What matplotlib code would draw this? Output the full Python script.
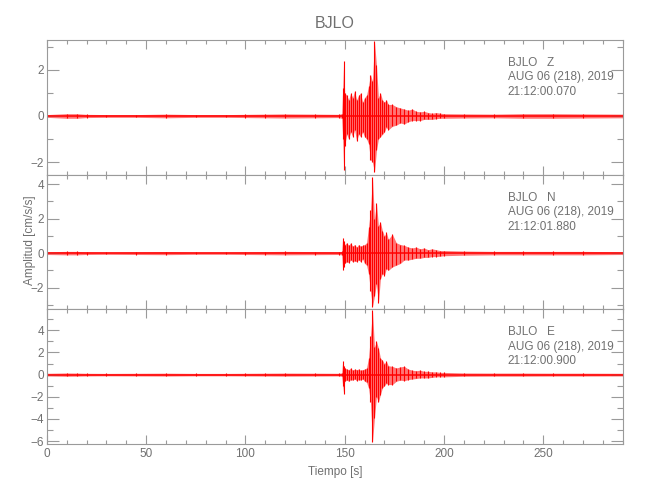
import numpy as np
import matplotlib.pyplot as plt
from matplotlib.ticker import MultipleLocator

plt.rcParams['font.family'] = ['Liberation Sans', 'DejaVu Sans']

# tiempos de la envolvente (s)
t = [0, 10, 15, 20, 30, 45, 60, 75, 90, 100, 110, 120, 135, 147, 148.5,
     149, 149.5, 150, 151, 152, 153, 154, 155, 156, 157, 158, 159, 160,
     161, 162, 163, 164, 165, 166, 167, 168, 169, 170, 171, 172,
     174, 176, 178, 180, 182, 184, 186, 188, 190, 192, 194, 196, 198, 200,
     210, 225, 240, 255, 270, 290]

# componente Z: maximo / minimo por intervalo
z_max = [0.06, 0.1, 0.1, 0.07, 0.06, 0.06, 0.08, 0.06, 0.06, 0.07, 0.08, 0.09, 0.08, 0.07, 0.1,
         1.2, 2.4, 1.0, 0.9, 0.7, 1.0, 0.8, 1.1, 0.7, 0.9, 1.0, 0.6, 0.8,
         0.9, 1.3, 1.8, 1.5, 3.25, 2.2, 0.8, 1.0, 0.7, 0.6, 0.7, 0.5,
         0.5, 0.4, 0.35, 0.3, 0.25, 0.3, 0.2, 0.18, 0.2, 0.15, 0.12, 0.15, 0.12, 0.1,
         0.09, 0.08, 0.1, 0.1, 0.09, 0.08]
z_min = [-0.06, -0.1, -0.1, -0.07, -0.06, -0.06, -0.08, -0.06, -0.06, -0.07, -0.08, -0.09, -0.08, -0.07, -0.1,
         -1.0, -2.35, -1.3, -0.8, -1.0, -0.7, -0.9, -0.6, -1.1, -0.8, -0.9, -0.7, -0.9,
         -1.0, -1.2, -1.9, -2.0, -2.45, -1.5, -1.0, -0.9, -0.8, -0.7, -0.5, -0.6,
         -0.45, -0.4, -0.3, -0.35, -0.25, -0.2, -0.2, -0.2, -0.15, -0.15, -0.15, -0.12, -0.1, -0.1,
         -0.09, -0.08, -0.1, -0.1, -0.09, -0.08]

# componente N
n_max = [0.08, 0.1, 0.1, 0.08, 0.07, 0.08, 0.09, 0.07, 0.07, 0.08, 0.09, 0.1, 0.09, 0.08, 0.1,
         0.9, 0.7, 0.5, 0.6, 0.45, 0.6, 0.4, 0.5, 0.35, 0.5, 0.4, 0.45, 0.5,
         0.6, 1.5, 2.5, 4.4, 2.0, 2.9, 1.6, 1.8, 1.3, 1.0, 1.2, 0.8,
         1.1, 0.6, 0.5, 0.45, 0.35, 0.3, 0.35, 0.25, 0.3, 0.2, 0.25, 0.2, 0.15, 0.15,
         0.12, 0.1, 0.1, 0.1, 0.1, 0.08]
n_min = [-0.08, -0.1, -0.1, -0.08, -0.07, -0.08, -0.09, -0.07, -0.07, -0.08, -0.09, -0.1, -0.09, -0.08, -0.1,
         -1.0, -0.8, -0.6, -0.5, -0.55, -0.4, -0.5, -0.45, -0.5, -0.4, -0.5, -0.35, -0.6,
         -0.7, -1.2, -2.2, -3.1, -2.5, -1.8, -2.9, -1.5, -1.2, -1.3, -0.9, -1.0,
         -0.8, -0.7, -0.6, -0.4, -0.4, -0.35, -0.3, -0.3, -0.25, -0.25, -0.2, -0.2, -0.18, -0.15,
         -0.12, -0.1, -0.1, -0.1, -0.1, -0.08]

# componente E
e_max = [0.12, 0.15, 0.14, 0.12, 0.11, 0.12, 0.13, 0.11, 0.11, 0.12, 0.13, 0.14, 0.13, 0.12, 0.15,
         1.2, 0.8, 0.6, 0.5, 0.45, 0.6, 0.4, 0.5, 0.45, 0.5, 0.4, 0.45, 0.5,
         0.6, 1.5, 3.5, 5.8, 2.5, 3.0, 2.4, 1.5, 1.3, 1.0, 1.2, 0.8,
         0.75, 0.6, 0.7, 0.75, 0.5, 0.4, 0.35, 0.4, 0.3, 0.3, 0.25, 0.25, 0.2, 0.2,
         0.15, 0.14, 0.14, 0.13, 0.13, 0.12]
e_min = [-0.12, -0.15, -0.14, -0.12, -0.11, -0.12, -0.13, -0.11, -0.11, -0.12, -0.13, -0.14, -0.13, -0.12, -0.15,
         -1.0, -1.75, -0.6, -0.5, -0.6, -0.45, -0.5, -0.4, -0.55, -0.45, -0.5, -0.4, -0.6,
         -0.7, -1.2, -2.5, -6.1, -3.9, -2.0, -2.5, -1.8, -1.2, -1.0, -0.8, -0.9,
         -0.9, -0.6, -0.5, -0.55, -0.45, -0.4, -0.35, -0.3, -0.3, -0.3, -0.25, -0.2, -0.2, -0.2,
         -0.15, -0.14, -0.14, -0.13, -0.13, -0.12]

componentes = ['Z', 'N', 'E']
horas = ['21:12:00.070', '21:12:01.880', '21:12:00.900']
limites = [(-2.55, 3.3), (-3.26, 4.55), (-6.27, 5.9)]
trazas = [(z_max, z_min), (n_max, n_min), (e_max, e_min)]

gris_txt = '#707070'
gris_eje = '#9a9a9a'
fs = 8.5

fig = plt.figure(figsize=(6.5, 5), dpi=100)
fig.subplots_adjust(left=0.072, right=0.958, top=0.92, bottom=0.112, hspace=0)
axs = fig.subplots(3, 1, sharex=True)

for i, ax in enumerate(axs):
    sup, inf = trazas[i]
    ax.fill_between(t, inf, sup, color='#ff3b3b', alpha=0.7, lw=0)
    ax.vlines(t, inf, sup, color='red', lw=0.8)
    ax.plot([0, 290], [0, 0], color='red', lw=1.1)
    ax.set_xlim(0, 290)
    ax.set_ylim(*limites[i])
    ax.xaxis.set_major_locator(MultipleLocator(50))
    ax.xaxis.set_minor_locator(MultipleLocator(10))
    ax.yaxis.set_major_locator(MultipleLocator(2))
    ax.yaxis.set_minor_locator(MultipleLocator(1))
    ax.tick_params(which='both', direction='in', top=True, right=True,
                   colors=gris_eje, labelcolor=gris_txt, labelsize=fs, width=0.8)
    ax.tick_params(axis='y', which='major', length=8.5, pad=2)
    ax.tick_params(axis='y', which='minor', length=4.3)
    ax.tick_params(axis='x', which='major', length=6.5, pad=3)
    ax.tick_params(axis='x', which='minor', length=3)
    for s in ax.spines.values():
        s.set_color(gris_eje)
        s.set_linewidth(0.8)
    ax.text(0.80, 0.83, 'BJLO   ' + componentes[i], transform=ax.transAxes,
            color=gris_txt, fontsize=fs, va='center')
    ax.text(0.80, 0.723, 'AUG 06 (218), 2019', transform=ax.transAxes,
            color=gris_txt, fontsize=fs, va='center')
    ax.text(0.80, 0.615, horas[i], transform=ax.transAxes,
            color=gris_txt, fontsize=fs, va='center')

axs[-1].set_xlabel('Tiempo [s]', color=gris_txt, fontsize=fs, labelpad=4)
axs[0].set_title('BJLO', color=gris_txt, fontsize=11.5, pad=9)
fig.text(0.046, 0.52, 'Amplitud [cm/s/s]', rotation=90, color=gris_txt,
         fontsize=fs, ha='center', va='center')

plt.savefig('out.png', dpi=100)
